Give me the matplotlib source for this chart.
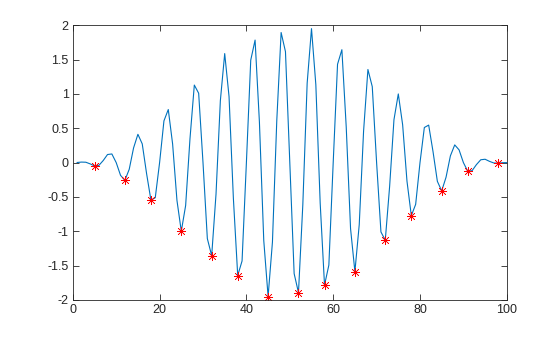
import matplotlib
matplotlib.use("Agg")
import matplotlib.pyplot as plt
import numpy as np

plt.rcParams['font.family'] = ['Liberation Sans', 'DejaVu Sans']
plt.rcParams['axes.unicode_minus'] = False

x = np.arange(1, 101)
A = [0.0016, 0.0075, 0.0055, -0.0185, -0.0489, -0.0413, 0.0294, 0.1176, 0.1259, 0.0,
     -0.1857, -0.2578, -0.0975, 0.2131, 0.4122, 0.2728, -0.1601, -0.5461, -0.5112, 0.0,
     0.6078, 0.7729, 0.2703, -0.5509, -1.0, -0.6247, 0.3477, 1.1293, 1.0102, 0.0,
     -1.1068, -1.3561, -0.4579, 0.9028, 1.5878, 0.9625, -0.5205, -1.6444, -1.4323, 0.0,
     1.4921, 1.7846, 0.5886, -1.1343, -1.9511, -1.1571, 0.6125, 1.8947, 1.6164, 0.0,
     -1.6164, -1.8947, -0.6125, 1.1571, 1.9511, 1.1343, -0.5886, -1.7846, -1.4921, 0.0,
     1.4323, 1.6444, 0.5205, -0.9625, -1.5878, -0.9028, 0.4579, 1.3561, 1.1068, 0.0,
     -1.0102, -1.1293, -0.3477, 0.6247, 1.0, 0.5509, -0.2703, -0.7729, -0.6078, 0.0,
     0.5112, 0.5461, 0.1601, -0.2728, -0.4122, -0.2131, 0.0975, 0.2578, 0.1857, 0.0,
     -0.1259, -0.1176, -0.0294, 0.0413, 0.0489, 0.0185, -0.0055, -0.0075, -0.0016, 0.0]
A = np.array(A)

# local minima (interior points only)
tf = np.zeros(len(A), dtype=bool)
tf[1:-1] = (A[1:-1] < A[:-2]) & (A[1:-1] < A[2:])

fig = plt.figure(figsize=(5.6, 3.37), dpi=100)
ax = fig.add_axes([0.13, 0.11, 0.775, 0.815])
ax.plot(x, A, color='#0072BD', lw=0.8)
ax.plot(x[tf], A[tf], ls='none', marker=(8, 2, 0), color='red', ms=6.5, mew=0.45)

ax.set_xlim(0, 100)
ax.set_ylim(-2, 2)
ax.set_xticks(np.arange(0, 101, 20))
yt = np.arange(-2, 2.01, 0.5)
ax.set_yticks(yt)
ax.set_yticklabels(['%g' % v for v in yt])
ax.tick_params(direction='in', top=True, right=True, length=4, width=0.6,
               colors='#262626', labelsize=9, pad=3)
for s in ax.spines.values():
    s.set_linewidth(0.6)
    s.set_color('#262626')

fig.savefig('out.png', dpi=100)
